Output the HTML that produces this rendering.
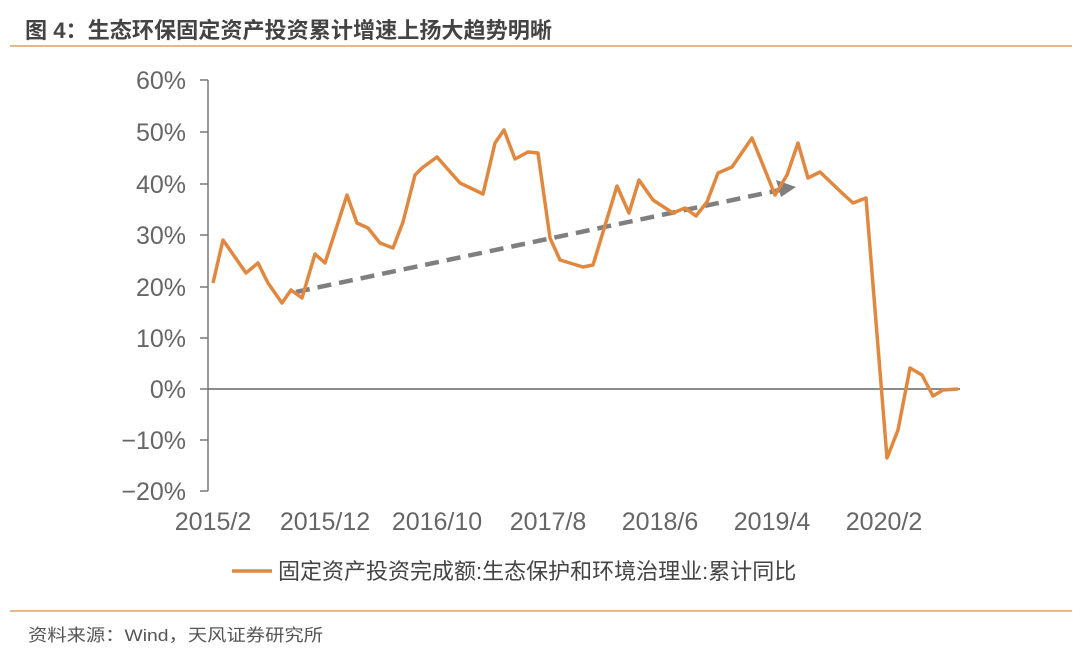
<!DOCTYPE html>
<html><head><meta charset="utf-8"><style>
body{margin:0;background:#fff;width:1080px;height:654px;overflow:hidden;font-family:"Liberation Sans","Noto Sans CJK SC",sans-serif;}
</style></head><body>
<svg width="1080" height="654" viewBox="0 0 1080 654" xmlns="http://www.w3.org/2000/svg" font-family="Liberation Sans, Noto Sans CJK SC, sans-serif">
<text x="25" y="38" font-size="22" font-weight="bold" fill="#444" textLength="527" lengthAdjust="spacingAndGlyphs">图 4：生态环保固定资产投资累计增速上扬大趋势明晰</text>
<line x1="10" y1="46" x2="1072" y2="46" stroke="#e0a060" stroke-width="1.5"/>
<g font-size="25" fill="#666" text-anchor="end">
<text x="186" y="89">60%</text><text x="186" y="141">50%</text><text x="186" y="193">40%</text>
<text x="186" y="244">30%</text><text x="186" y="296">20%</text><text x="186" y="347">10%</text>
<text x="186" y="398">0%</text><text x="186" y="449">−10%</text><text x="186" y="500">−20%</text>
</g>
<g stroke="#777" stroke-width="1.5">
<line x1="208" y1="80" x2="208" y2="491"/>
<line x1="200" y1="80" x2="208" y2="80"/><line x1="200" y1="132" x2="208" y2="132"/>
<line x1="200" y1="184" x2="208" y2="184"/><line x1="200" y1="235" x2="208" y2="235"/>
<line x1="200" y1="287" x2="208" y2="287"/><line x1="200" y1="338" x2="208" y2="338"/>
<line x1="200" y1="389" x2="208" y2="389"/><line x1="200" y1="440" x2="208" y2="440"/>
<line x1="200" y1="491" x2="208" y2="491"/>
</g>
<line x1="208" y1="389" x2="960" y2="389" stroke="#666" stroke-width="1.5"/>
<g font-size="25" fill="#666" text-anchor="middle">
<text x="213" y="530">2015/2</text><text x="325" y="530">2015/12</text><text x="437" y="530">2016/10</text>
<text x="548" y="530">2017/8</text><text x="660" y="530">2018/6</text><text x="772" y="530">2019/4</text>
<text x="884" y="530">2020/2</text>
</g>
<line x1="296" y1="292" x2="780" y2="190" stroke="#7f7f7f" stroke-width="4.5" stroke-dasharray="14,8"/>
<polygon points="796,187 776,180 781,197" fill="#7f7f7f"/>
<polyline fill="none" stroke="#e0883f" stroke-width="3.5" stroke-linejoin="round" points="213,283 223,240 246,273 258,263 268,283 282,303 291,290 302,298 315,254 325,263 347,195 357,223 368,228 380,243 393,248 403,222 415,175 422,168 437,157 460,183 483,194 495,143 504,130 515,159 528,152 538,153 550,238 560,260 583,267 593,265 617,186 629,213 639,180 653,200 673,213 685,208 696,216 707,202 718,173 732,167 752,138 765,170 775,195 787,175 798,143 808,178 820,172 842,193 853,203 866,198 887,458 898,430 910,368 922,375 933,396 943,390 958,389"/>
<line x1="232" y1="571" x2="272" y2="571" stroke="#e0883f" stroke-width="3.5"/>
<text x="278" y="579" font-size="22" fill="#444">固定资产投资完成额:生态保护和环境治理业:累计同比</text>
<line x1="10" y1="611" x2="1072" y2="611" stroke="#e0a060" stroke-width="1.5"/>
<text x="28" y="641" font-size="17" fill="#555" textLength="295" lengthAdjust="spacingAndGlyphs">资料来源：Wind，天风证券研究所</text>
</svg>
</body></html>
